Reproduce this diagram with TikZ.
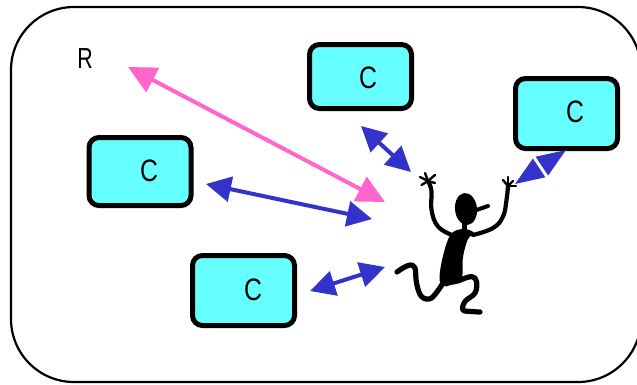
\documentclass[tikz,border=0pt]{standalone}
\usepackage{fontspec}
\setmainfont{Liberation Sans}
\newfontfamily\narrowfont[FakeStretch=0.8]{Liberation Sans}
\usetikzlibrary{arrows.meta}
\definecolor{boxcyan}{HTML}{66FFFF}
\definecolor{linkblue}{HTML}{3333CC}
\definecolor{linkpink}{HTML}{FF66CC}
\tikzset{
  cbox/.style={draw=black, line width=5pt, fill=boxcyan, rounded corners=10pt,
    minimum width=102pt, minimum height=66pt, inner sep=0pt},
  clabel/.style={font=\narrowfont\fontsize{31}{31}\selectfont, inner sep=0pt},
  bluelink/.style={draw=linkblue, line width=4pt,
    {Triangle[length=25pt,width=25pt]}-{Triangle[length=25pt,width=25pt]}},
  pinklink/.style={draw=linkpink, line width=4pt,
    {Triangle[length=28pt,width=27pt]}-{Triangle[length=28pt,width=27pt]}},
  limb/.style={draw=black, line width=4.2pt, line cap=round, line join=round},
  leg/.style={draw=black, line width=5.2pt, line cap=round, line join=round},
  finger/.style={draw=black, line width=2.4pt, line cap=round},
}
\begin{document}
\begin{tikzpicture}[x=1pt, y=-1pt]
\useasboundingbox (0,0) rectangle (637,384);

% outer frame
\draw[line width=2.2pt, rounded corners=63pt] (11,7) rectangle (641,382);

% label
\node[font=\narrowfont\fontsize{29}{29}\selectfont, inner sep=0pt, xscale=0.92] (r) at (85,58.5) {R};

% boxes
\node[cbox, minimum height=64pt] (c1) at (360.5,76.5) {};
\node[cbox, minimum height=70pt] (c2) at (566.5,113.5) {};
\node[cbox, minimum height=68pt] (c3) at (140,171.5) {};
\node[cbox, minimum height=70pt] (c4) at (243.5,290.5) {};
\node[clabel] (t1) at (368,78) {C};
\node[clabel] (t2) at (575,112) {C};
\node[clabel] (t3) at (149,171) {C};
\node[clabel] (t4) at (253,290) {C};

% link end points
\coordinate (pa) at (128,67);
\coordinate (pb) at (385,202);
\coordinate (la) at (206,184);
\coordinate (lb) at (372,219);
\coordinate (ta) at (361,126);
\coordinate (tb) at (411,172);
\coordinate (ra) at (515,184);
\coordinate (rb) at (566,150);
\coordinate (ba) at (310,291);
\coordinate (bb) at (385,267);

\draw[pinklink] (pa) -- (pb);
\draw[bluelink] (la) -- (lb);
\draw[bluelink] (ta) -- (tb);
\draw[line width=2pt, white,
  {Triangle[length=29pt,width=22pt,color=linkblue]}-{Triangle[length=29pt,width=22pt,color=linkblue]}] (ra) -- (rb);
\draw[bluelink] (ba) -- (bb);

% dancing figure
% head and cap brim
\fill[rotate around={6:(466,209)}] (466,209) ellipse [x radius=11pt, y radius=16pt];
\draw[line width=4pt, line cap=round] (475,210.5) -- (488,206);
% neck
\draw[line width=5pt] (464,222) -- (464,232);
% torso
\fill plot[smooth cycle, tension=0.6] coordinates {
  (451,234) (443,256) (439.5,278) (443,286)
  (451,285) (461.5,280) (463,257) (468,239) (474,233) (464,229)};
% arms
\draw[limb] plot[smooth, tension=0.7] coordinates {(452,235) (438,226.5) (431.5,210) (431.5,191) (428,181)};
\draw[limb] plot[smooth, tension=0.7] coordinates {(473,235) (493,228) (503,216.5) (506.5,200) (508,186)};
% hands
\draw[finger] (428,181) -- (420,177);
\draw[finger] (428,181) -- (425,173);
\draw[finger] (428,181) -- (435,175);
\draw[finger] (428,181) -- (435,183);
\draw[finger] (428,181) -- (421.5,185);
\draw[finger] (508,186) -- (503,180);
\draw[finger] (508,186) -- (508,177);
\draw[finger] (508,186) -- (513,181);
\draw[finger] (508,186) -- (516,186);
% legs
\draw[leg] plot[smooth, tension=0.6] coordinates {(443,283) (431.5,298) (421.5,296.5) (416.5,283) (415,268) (410,265) (403,268) (397,272)};
\draw[leg] plot[smooth, tension=0.6] coordinates {(458,281) (471.5,276.5) (476.5,281.5) (475,293) (465,301.5) (463,310) (472,311.5) (480,312)};
\end{tikzpicture}
\end{document}
